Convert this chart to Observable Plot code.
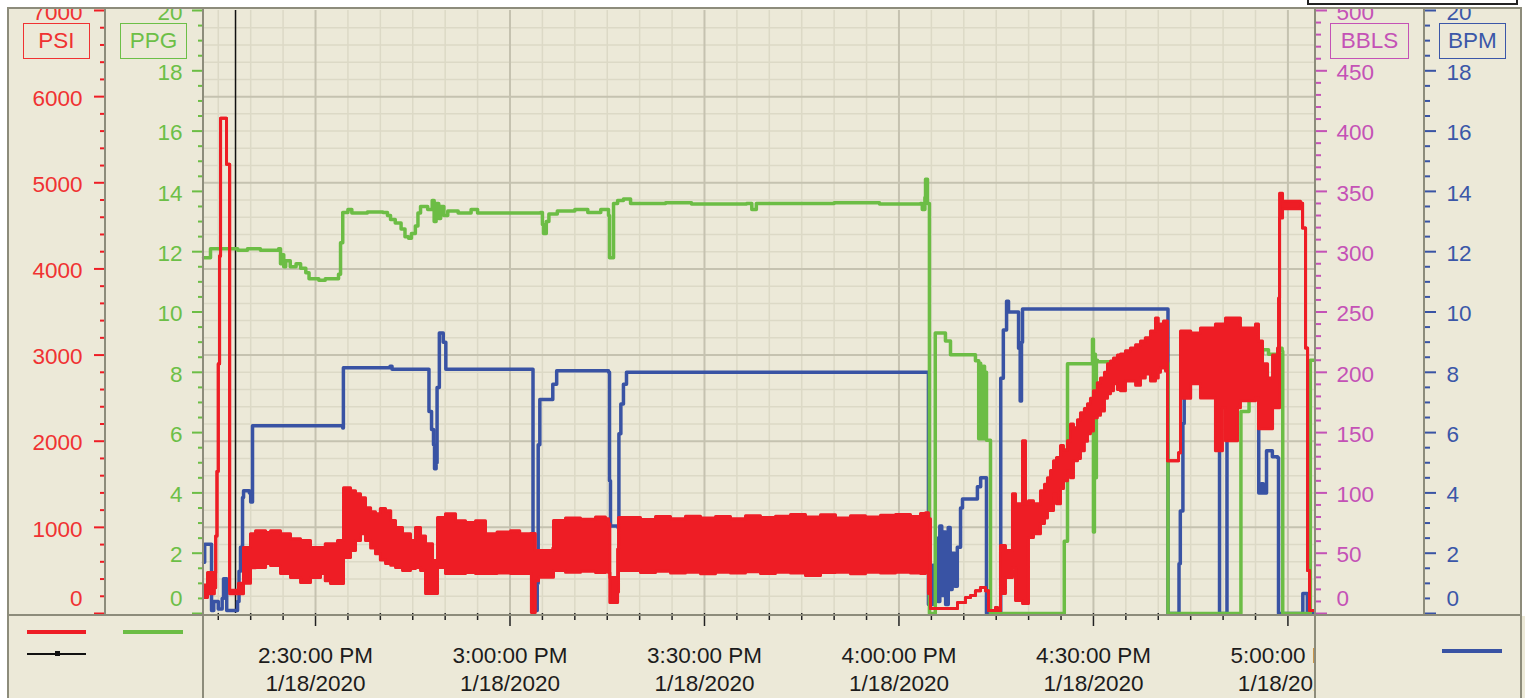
<!DOCTYPE html>
<html><head><meta charset="utf-8">
<script src="https://cdn.jsdelivr.net/npm/d3@7"></script>
<script src="https://cdn.jsdelivr.net/npm/@observablehq/plot@0.6"></script>
<style>
html,body{margin:0;padding:0;overflow:hidden;background:#fff;}
#wrap{position:relative;width:1525px;height:698px;font-family:"Liberation Sans",Arial,sans-serif;}
.a{position:absolute;}
.ln{position:absolute;background:#8d8c7b;}
.tbox{position:absolute;top:23px;height:36px;box-sizing:border-box;border:1.6px solid;font-size:22.5px;line-height:33px;text-align:center;}
</style></head>
<body>
<div id="wrap">
  <div class="a" style="left:8px;top:8px;width:1513px;height:690px;background:#ECE9D8"></div>
  <div id="chart" class="a" style="left:0;top:0"></div>
  <div class="a" style="left:0;top:0;width:1525px;height:8px;background:#fff"></div>
  <div class="a" style="left:1522px;top:0;width:3px;height:698px;background:#fff"></div>
  <div class="a" style="left:1316px;top:616px;width:1205px;height:82px;background:#ECE9D8"></div>
  <div class="ln" style="left:8px;top:7px;width:1514px;height:2px"></div>
  <div class="ln" style="left:7px;top:7px;width:2px;height:691px"></div>
  <div class="ln" style="left:1520px;top:7px;width:2px;height:691px"></div>
  <div class="ln" style="left:104px;top:8px;width:2px;height:608px"></div>
  <div class="ln" style="left:202px;top:8px;width:2px;height:690px"></div>
  <div class="ln" style="left:1314px;top:8px;width:2px;height:690px"></div>
  <div class="ln" style="left:1423px;top:8px;width:2px;height:608px"></div>
  <div class="ln" style="left:8px;top:614px;width:1513px;height:2px"></div>
  <div class="a" style="left:1307px;top:-10px;width:211px;height:15px;border:2px solid #222;background:#fff;box-sizing:border-box"></div>
  <div class="tbox" style="left:23px;width:67px;color:#f03232;border-color:#f03232">PSI</div>
  <div class="tbox" style="left:120px;width:67px;color:#6cbf47;border-color:#6cbf47">PPG</div>
  <div class="tbox" style="left:1330px;width:79px;color:#c452b6;border-color:#c452b6">BBLS</div>
  <div class="tbox" style="left:1439px;width:67px;color:#3b57a8;border-color:#3b57a8">BPM</div>
  <div class="a" style="left:27px;top:630px;width:59px;height:4px;background:#ee1d25"></div>
  <div class="a" style="left:123px;top:630px;width:60px;height:4px;background:#6cbd45"></div>
  <div class="a" style="left:27px;top:653px;width:59px;height:1.5px;background:#111"></div>
  <div class="a" style="left:55px;top:651px;width:5px;height:5px;background:#111"></div>
  <div class="a" style="left:1442px;top:649px;width:60px;height:4px;background:#3953a4"></div>
</div>
<script>
// ---- data (time = minutes after 2:00 PM, 1/18/2020) ----
const cursorTime = 17.66;
const xTickMinutes = [30, 60, 90, 120, 150, 180];
const xTickLabels = ["2:30:00 PM", "3:00:00 PM", "3:30:00 PM", "4:00:00 PM", "4:30:00 PM", "5:00:00 PM"];
const dateLabel = "1/18/2020";

// PPG [time, ppg]
const ppgSeries = [
 [12.72,11.8],[13.8,12.1],[18.0,12.05],[19.5,12.1],[21.5,12.05],[24.3,12.1],[24.6,11.6],[24.9,11.9],[25.1,11.5],
 [25.4,11.7],[26.1,11.5],[27.0,11.6],[27.7,11.45],[28.5,11.3],[29.0,11.1],[30.5,11.05],[31.5,11.1],[33.4,11.1],
 [33.55,11.25],[33.86,12.3],[34.2,13.3],[35.0,13.4],[35.6,13.28],[38.0,13.32],[40.4,13.3],[41.1,13.2],[41.57,13.07],
 [42.3,12.95],[43.2,12.75],[43.8,12.5],[44.35,12.45],[44.8,12.6],[45.4,12.85],[45.8,13.28],[46.2,13.5],[47.3,13.4],
 [48.0,13.7],[48.3,13.0],[48.6,13.6],[49.0,13.1],[49.3,13.5],[49.8,13.2],[50.4,13.35],[52.0,13.28],[54.0,13.4],
 [55.0,13.28],[64.7,13.3],[65.0,12.9],[65.17,12.6],[65.6,13.0],[66.0,13.25],[67.3,13.35],[70.0,13.4],[72.0,13.3],
 [74.0,13.4],[75.2,13.2],[75.35,11.8],[75.97,13.6],[76.6,13.7],[77.5,13.75],[78.6,13.6],[84.0,13.62],[88.0,13.58],
 [96.5,13.6],[97.3,13.4],[98.0,13.6],[110,13.62],[117,13.58],[123.3,13.6],[123.6,13.4],[124.0,13.8],[124.1,14.4],
 [124.4,13.6],[124.7,0],[125.5,0],[125.6,9.3],[127.17,9.04],[127.95,8.58],[131.8,8.38],[132.3,5.8],[132.45,8.3],
 [132.6,5.8],[132.75,8.2],[132.9,5.8],[133.05,8.2],[133.2,5.8],[133.35,8.0],[133.5,5.75],[134.0,5.75],[134.12,0],
 [145.38,0],[145.5,2.4],[146.0,8.28],[149.7,8.28],[149.85,9.1],[150.0,2.7],[150.15,8.6],[150.3,4.5],[150.45,8.4],
 [150.62,8.35],[161.4,8.3],[161.5,0],[172.6,0],[172.75,6.7],[174.0,7.6],[175.6,8.6],[176.1,8.75],[177,8.6],
 [178.5,8.8],[179.1,8.7],[179.2,0],[183.3,0],[183.45,8.4],[184.1,8.4]
];

// BPM [time, bpm]
const bpmSeries = [
 [12.72,1.7],[12.9,2.3],[13.96,0.1],[14.3,0.4],[15.0,0.15],[15.6,0.5],[15.81,1.15],[16.3,0.1],[17.97,0.4],
 [18.2,1.4],[18.43,2.2],[18.74,3.85],[18.9,4.07],[19.8,4.0],[20.0,3.7],[20.28,6.23],[34.2,6.15],[34.3,8.15],
 [41.5,8.2],[41.8,8.1],[47.28,8.1],[47.5,6.7],[47.9,6.1],[48.2,5.6],[48.36,4.8],[48.6,5.0],[48.75,7.5],[49.1,9.3],
 [49.7,9.0],[50.1,8.1],[63.4,8.1],[63.55,0.1],[64.2,1.0],[64.35,5.6],[64.6,7.1],[66.6,7.6],[67.2,8.05],[75.2,8.0],
 [75.35,4.4],[75.5,2.9],[76.65,2.85],[76.8,5.96],[77.1,6.95],[77.5,7.6],[77.97,8.0],[124.4,8.0],[124.55,0.3],
 [125.2,1.6],[125.4,0.5],[125.7,2.5],[126.0,0.4],[126.3,2.9],[126.6,0.6],[126.9,2.7],[127.2,0.3],[127.6,2.85],
 [127.9,0.8],[128.2,2.0],[128.6,0.9],[129.0,2.2],[129.5,3.5],[129.8,3.8],[132.1,4.2],[132.6,4.5],[133.5,0],
 [135.6,0],[135.7,7.8],[136.1,9.4],[136.6,10.36],[136.9,10.0],[138.3,10.0],[138.45,8.8],[138.7,7.05],[138.9,9.0],
 [139.06,10.1],[161.4,10.1],[161.5,0],[163.1,0],[163.2,1.65],[163.4,3.4],[163.8,6.3],[164.0,7.8],[169.3,7.8],
 [169.45,0],[170.5,0],[170.6,7.8],[175.2,7.8],[175.3,7.15],[175.5,4.0],[175.9,4.3],[176.2,4.0],[176.7,5.4],[177.6,5.2],
 [178.4,5.17],[178.55,0],[182.2,0],[182.3,0.66],[183.0,0],[184.1,0]
];

// PSI [time, band low, band high]
const psiSeries = [
 [12.72,185,330],[13.34,230,475],[14.4,300,470],[14.6,900,900],[14.8,1650,1650],[15.0,2900,2900],[15.2,4150,4150],
 [15.35,5750,5750],[16.2,5750,5750],[16.27,5215,5215],[16.66,5215,5215],[16.75,230,270],[18.12,230,350],[18.89,350,765],
 [19.97,530,925],[20.75,533,960],[22.3,580,940],[23.06,556,962],[24.6,464,927],[26.14,417,869],[27.69,359,846],
 [29.23,417,765],[30.77,464,765],[31.5,380,811],[32.31,348,811],[33.39,348,846],[34.32,650,1460],[35.4,730,1425],
 [36.17,846,1391],[36.94,927,1344],[37.71,846,1229],[38.5,760,1180],[39.25,695,1159],[40.0,620,1220],[40.8,580,1194],
 [41.6,560,1080],[42.34,533,997],[43.42,498,927],[44.65,522,846],[45.42,533,997],[46.2,500,900],[46.97,232,811],
 [48.05,232,614],[48.82,533,1113],[50.05,464,1159],[51.6,464,1078],[53.14,475,1055],[54.68,464,1078],[56.22,465,927],
 [58.0,470,945],[60.08,465,962],[61.5,465,927],[63.1,465,930],[63.3,12,930],[63.9,380,730],[64.4,420,730],
 [66.6,420,760],[66.71,500,1080],[68.56,480,1110],[70.88,490,1095],[73.19,475,1120],[74.73,485,1100],[75.2,475,1043],
 [75.4,127,417],[76.6,250,750],[76.74,500,1115],[77.97,500,1115],[80.13,475,1090],[82.45,490,1125],[84.76,470,1100],
 [87.07,480,1130],[89.39,460,1110],[91.7,480,1125],[94.01,470,1100],[96.33,485,1135],[98.64,465,1115],[100.95,480,1130],
 [103.27,470,1150],[105.58,440,1120],[107.9,475,1145],[110.21,480,1110],[112.52,460,1135],[114.84,480,1120],
 [117.15,470,1140],[119.46,480,1150],[121.78,470,1125],[123.32,465,1160],[124.09,475,1171],
 [124.55,232,1100],[124.86,58,58],[129.03,127,127],[130.26,185,185],[131.03,209,209],[131.8,265,265],[132.57,301,301],
 [133.35,265,265],[133.81,35,35],[134.89,70,70],[135.2,35,35],[135.66,232,788],[136.43,417,730],[137.51,533,1391],
 [137.98,151,1275],[139.06,116,2005],[139.52,116,1275],[139.98,881,1310],[140.75,927,1275],[141.83,1045,1426],
 [142.45,1110,1500],[142.91,1195,1575],[143.38,1195,1660],[143.84,1391,1773],[144.3,1275,1810],[144.92,1450,1950],
 [145.38,1541,1900],[146.0,1657,2005],[146.46,1575,2200],[146.92,1773,2156],[147.54,1800,2250],[148.0,1890,2330],
 [148.6,2000,2380],[149.08,2086,2434],[149.54,2120,2500],[150.0,2272,2585],[150.6,2300,2680],[151.09,2350,2735],
 [151.7,2500,2800],[152.17,2550,2898],[152.63,2585,2930],[153.09,2666,2967],[153.7,2600,3000],[154.17,2585,3013],
 [154.94,2700,3050],[155.71,2700,3083],[156.5,2650,3120],[157.26,2735,3164],[158.0,2780,3200],[158.8,2700,3280],
 [159.57,2735,3431],[160.0,2800,3300],[160.34,2851,3361],[160.81,2851,3396],[161.12,2816,3396],
 [161.43,1773,1773],[163.12,1866,1866],[163.43,2500,3280],[165.0,2666,3257],[166.51,2503,3315],
 [168.82,1889,3361],[169.9,2388,3361],[170.37,2005,3431],[172.22,2388,3431],[172.68,2469,3315],[175,2503,3361],
 [175.46,2144,3164],[176.08,2144,2900],[176.86,2144,2735],[177.63,2388,3000],[178.4,2388,3083],[178.55,2388,3662],
 [178.71,4590,4879],[179.17,4700,4787],[181.95,4763,4763],[182.26,4474,4474],[182.72,3083,3083],[183.03,498,498],
 [183.34,35,35],[184.1,35,35]
];

// ---- axes definitions ----
const psiMajor = d3.range(0, 7001, 1000);
const psiMinor = d3.range(0, 7001, 200).filter(v => v % 1000 !== 0);
const ppgMajor = d3.range(0, 21, 2);
const ppgMinor = d3.range(0, 20.01, 0.5).filter(v => v % 2 !== 0);
const bblsMajor = d3.range(0, 501, 50);
const bblsMinor = d3.range(0, 501, 10).filter(v => v % 50 !== 0);
const bpmMajor = d3.range(0, 21, 2);
const bpmMinor = d3.range(0, 20.01, 0.5).filter(v => v % 2 !== 0);
const xMajor = xTickMinutes;
const xMinor = d3.range(15, 184, 5).filter(m => m % 30 !== 0);

const PSI_K = 350, BBLS_K = 25; // conversion into the shared 0–20 y scale
const RED = "#ee1d25", GREEN = "#6cbd45", BLUE = "#3953a4";
const RED_T = "#f03232", GREEN_T = "#6cbf47", MAG_T = "#c452b6", BLUE_T = "#3b57a8";
const G_MINOR = "#dcd9c6", G_MAJOR = "#c5c2b0";

const psiRows = psiSeries.map(([t, lo, hi]) => ({t, lo: lo / PSI_K, hi: hi / PSI_K}));

function axisSet(major, minor, k, anchor, dx, pad, tcolor, scolor) {
  const maj = major.map(v => v / k), mnr = minor.map(v => v / k);
  const lab = major.filter(v => v > 0);
  return [
    Plot.axisY(maj, {anchor, dx, tickSize: 11, stroke: scolor, strokeWidth: 2, fill: "none", label: null}),
    Plot.axisY(mnr, {anchor, dx, tickSize: 5, stroke: scolor, strokeWidth: 2, fill: "none", label: null}),
    Plot.axisY(lab.map(v => v / k), {anchor, dx, dy: 2, tickSize: 0, tickPadding: pad, fill: tcolor, label: null,
      tickFormat: d => String(Math.round(d * k))}),
    Plot.axisY([0], {anchor, dx, dy: -15, tickSize: 0, tickPadding: pad, fill: tcolor, label: null,
      tickFormat: () => "0"})
  ];
}

const chart = Plot.plot({
  width: 1525, height: 698,
  marginLeft: 203, marginRight: 211, marginTop: 10, marginBottom: 85,
  x: {domain: [12.72, 184.1], axis: null},
  y: {domain: [0, 20], axis: null, label: null},
  style: {background: "transparent", fontFamily: "'Liberation Sans', Arial, sans-serif", fontSize: "22.5px", overflow: "visible"},
  marks: [
    Plot.ruleX(xMinor, {stroke: G_MINOR, strokeWidth: 1.5}),
    Plot.ruleY(psiMinor.map(v => v / PSI_K), {stroke: G_MINOR, strokeWidth: 1.5}),
    Plot.ruleX(xMajor, {stroke: G_MAJOR, strokeWidth: 2}),
    Plot.ruleY(psiMajor.filter(v => v > 0 && v < 7000).map(v => v / PSI_K), {stroke: G_MAJOR, strokeWidth: 2}),
    ...axisSet(psiMajor, psiMinor, PSI_K, "left", -98, 23, RED_T, RED),
    ...axisSet(ppgMajor, ppgMinor, 1, "left", 0, 21, GREEN_T, GREEN),
    ...axisSet(bblsMajor, bblsMinor, BBLS_K, "right", 1, 21, MAG_T, "#c452b6"),
    ...axisSet(bpmMajor, bpmMinor, 1, "right", 110, 22, BLUE_T, BLUE),
    Plot.axisX(xMinor, {anchor: "bottom", tickSize: 7, stroke: "#222", strokeWidth: 1.5, fill: "none", label: null}),
    Plot.axisX(xMajor, {anchor: "bottom", tickSize: 13, stroke: "#222", strokeWidth: 1.5, fill: "none", label: null}),
    Plot.axisX(xMajor, {anchor: "bottom", tickSize: 0, tickPadding: 30, fill: "#1c1c1c", label: null, lineHeight: 1.244,
      tickFormat: d => xTickLabels[xTickMinutes.indexOf(d)] + "\n" + dateLabel}),
    Plot.ruleX([cursorTime], {stroke: "#111", strokeWidth: 1.5}),
    Plot.line(bpmSeries, {x: d => d[0], y: d => d[1], stroke: BLUE, strokeWidth: 3.5, curve: "step-after"}),
    Plot.line(ppgSeries, {x: d => d[0], y: d => d[1], stroke: GREEN, strokeWidth: 3.5, curve: "step-after"}),
    Plot.areaY(psiRows, {x: "t", y1: "lo", y2: "hi", fill: RED, curve: "step-after"}),
    Plot.line(psiRows, {x: "t", y: "lo", stroke: RED, strokeWidth: 3, curve: "step-after"}),
    Plot.line(psiRows, {x: "t", y: "hi", stroke: RED, strokeWidth: 3, curve: "step-after"})
  ]
});
document.getElementById("chart").appendChild(chart);
</script>
</body></html>
